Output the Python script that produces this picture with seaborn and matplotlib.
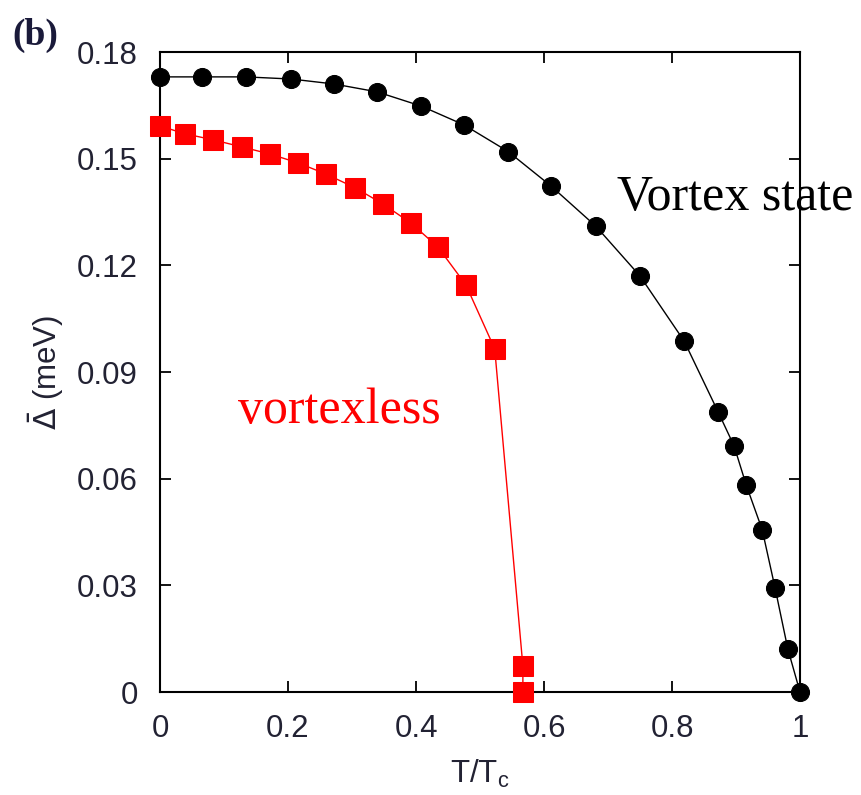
import matplotlib
matplotlib.use("Agg")
import matplotlib.pyplot as plt
import seaborn as sns
import pandas as pd

# Vortex state (black circles)
vortex_t = [0.0, 0.066, 0.134, 0.205, 0.272, 0.339, 0.408, 0.475, 0.544, 0.611,
            0.681, 0.75, 0.819, 0.872, 0.897, 0.916, 0.941, 0.961, 0.981, 1.0]
vortex_gap = [0.173, 0.173, 0.173, 0.1724, 0.171, 0.1688, 0.1648, 0.1595, 0.152, 0.1423,
              0.131, 0.117, 0.0987, 0.0788, 0.0692, 0.0582, 0.0456, 0.0293, 0.0121, 0.0]

# Vortexless (red squares)
vless_t = [0.0, 0.039, 0.083, 0.128, 0.172, 0.216, 0.259, 0.305, 0.348, 0.392,
           0.434, 0.478, 0.523, 0.567, 0.567]
vless_gap = [0.1592, 0.157, 0.1553, 0.1533, 0.1513, 0.1488, 0.1457, 0.1418, 0.1373, 0.1319,
             0.1252, 0.1145, 0.0965, 0.0073, 0.0]

x_ticks = [0, 0.2, 0.4, 0.6, 0.8, 1]
x_ticklabels = ["0", "0.2", "0.4", "0.6", "0.8", "1"]
y_ticks = [0, 0.03, 0.06, 0.09, 0.12, 0.15, 0.18]
y_ticklabels = ["0", "0.03", "0.06", "0.09", "0.12", "0.15", "0.18"]

sns.set_theme(style="ticks")
plt.rcParams["font.family"] = ["Liberation Sans", "DejaVu Sans"]

fig = plt.figure(figsize=(8.61, 7.95), dpi=100)
ax = fig.add_axes([160 / 861, 103 / 795, 640 / 861, 640 / 795])

df_v = pd.DataFrame({"t": vortex_t, "gap": vortex_gap})
df_l = pd.DataFrame({"t": vless_t, "gap": vless_gap})

sns.lineplot(data=df_v, x="t", y="gap", ax=ax, color="black", linewidth=1.0,
             marker="o", markersize=13, markeredgecolor="black", markerfacecolor="black",
             estimator=None, sort=False, clip_on=False, zorder=3)
sns.lineplot(data=df_l, x="t", y="gap", ax=ax, color="#ff0000", linewidth=1.0,
             marker="s", markersize=15, markeredgecolor="#ff0000", markerfacecolor="#ff0000",
             estimator=None, sort=False, clip_on=False, zorder=3)

ax.set_xlim(0, 1)
ax.set_ylim(0, 0.18)
ax.set_xticks(x_ticks)
ax.set_xticklabels(x_ticklabels)
ax.set_yticks(y_ticks)
ax.set_yticklabels(y_ticklabels)
ax.tick_params(direction="in", length=8, width=1.3, labelsize=22.5, top=True, right=True,
               colors="black", pad=16)
ax.tick_params(labelcolor="#222233")
for s in ax.spines.values():
    s.set_linewidth(1.5)
    s.set_color("black")
    s.set_visible(True)

ax.set_xlabel(r"T/T$_\mathregular{c}$", fontsize=22.5, labelpad=10, color="#222233")
ax.set_ylabel(r"$\bar{\Delta}$ (meV)", fontsize=22.5, labelpad=8, color="#222233")

serif = ["Liberation Serif", "DejaVu Serif"]
ax.text(0.122, 0.0757, "vortexless", color="#ff0000", fontsize=36,
        family=serif, va="baseline", ha="left", clip_on=False)
ax.text(0.714, 0.1356, "Vortex state", color="black", fontsize=36,
        family=serif, va="baseline", ha="left", clip_on=False)
fig.text(12 / 861, 1 - 18 / 795, "(b)", fontsize=27, fontweight="bold",
         family=serif, color="#1a1a3a", va="top", ha="left")

fig.savefig("out.png", dpi=100)
